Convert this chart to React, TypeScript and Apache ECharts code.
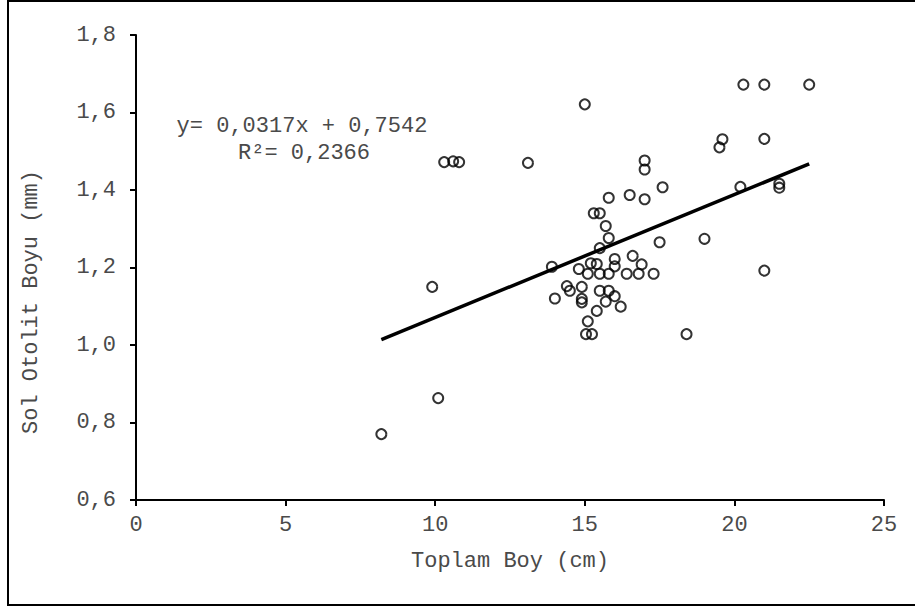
import React, { useEffect, useRef } from "react";
import * as echarts from "echarts";

const toplamBoy: number[] = [
  8.2, 9.9, 10.1, 10.3, 10.6, 10.8, 13.1, 13.9, 14.0, 15.0,
  14.4, 14.5, 14.9, 14.9, 14.9, 14.8, 15.2, 15.4, 15.1, 15.5,
  15.8, 16.4, 16.8, 17.3, 16.0, 16.0, 16.6, 16.9, 15.5, 15.8,
  16.0, 15.7, 16.2, 15.4, 15.1, 15.04, 15.24, 18.4, 15.5, 15.8,
  15.7, 15.3, 15.5, 15.8, 16.5, 17.0, 17.0, 17.0, 17.6, 17.5,
  19.0, 20.2, 21.5, 21.5, 21.0, 19.5, 19.6, 21.0, 20.3, 21.0,
  22.5,
];
const solOtolitBoyu: number[] = [
  0.77, 1.15, 0.863, 1.472, 1.474, 1.472, 1.47, 1.202, 1.12, 1.621,
  1.152, 1.14, 1.15, 1.119, 1.11, 1.196, 1.211, 1.209, 1.184, 1.184,
  1.184, 1.184, 1.184, 1.184, 1.222, 1.203, 1.23, 1.208, 1.14, 1.14,
  1.126, 1.112, 1.099, 1.088, 1.061, 1.028, 1.028, 1.028, 1.25, 1.276,
  1.307, 1.34, 1.34, 1.38, 1.387, 1.376, 1.453, 1.476, 1.407, 1.265,
  1.274, 1.408, 1.416, 1.406, 1.192, 1.51, 1.531, 1.532, 1.672, 1.672,
  1.672,
];
const trendSlope = 0.0317;
const trendIntercept = 0.7542;
const rSquared = 0.2366;
const xTicks = { min: 0, max: 25, interval: 5 };
const yTicks = { min: 0.6, max: 1.8, interval: 0.2 };

const FONT =
  "'Courier New', 'Nimbus Mono PS', 'Nimbus Mono L', FreeMono, 'Liberation Mono', monospace";
const TEXT_COLOR = "#4a4a4a";

const fmt = (v: number, d: number) => v.toFixed(d).replace(".", ",");

export default function App() {
  const ref = useRef<HTMLDivElement>(null);

  useEffect(() => {
    if (!ref.current) return;
    const chart = echarts.init(ref.current, undefined, { renderer: "svg" });
    const points = toplamBoy.map((x, i) => [x, solOtolitBoyu[i]]);
    const xMin = Math.min(...toplamBoy);
    const xMax = Math.max(...toplamBoy);
    const trend = [
      [xMin, trendSlope * xMin + trendIntercept],
      [xMax, trendSlope * xMax + trendIntercept],
    ];

    chart.setOption({
      animation: false,
      backgroundColor: "#ffffff",
      grid: { left: 136, right: 31, top: 35, bottom: 108, containLabel: false },
      xAxis: {
        type: "value",
        min: xTicks.min,
        max: xTicks.max,
        interval: xTicks.interval,
        name: "Toplam Boy (cm)",
        nameLocation: "middle",
        nameGap: 50,
        nameTextStyle: { fontFamily: FONT, fontSize: 22, color: TEXT_COLOR },
        axisLine: { onZero: false, lineStyle: { color: "#000", width: 2 } },
        axisTick: { show: true, inside: false, length: 6, lineStyle: { color: "#000", width: 2 } },
        axisLabel: {
          fontFamily: FONT,
          fontSize: 22,
          color: TEXT_COLOR,
          margin: 14,
          formatter: (v: number) => fmt(v, 0),
        },
        splitLine: { show: false },
      },
      yAxis: {
        type: "value",
        min: yTicks.min,
        max: yTicks.max,
        interval: yTicks.interval,
        axisLine: { show: true, onZero: false, lineStyle: { color: "#000", width: 2 } },
        axisTick: { show: true, inside: false, length: 6, lineStyle: { color: "#000", width: 2 } },
        axisLabel: {
          fontFamily: FONT,
          fontSize: 22,
          color: TEXT_COLOR,
          margin: 20,
          formatter: (v: number) => fmt(v, 1),
        },
        splitLine: { show: false },
      },
      graphic: [
        {
          type: "rect",
          shape: { x: 8, y: 1, width: 920, height: 604 },
          style: { fill: "none", stroke: "#000", lineWidth: 2 },
          silent: true,
        },
        {
          type: "text",
          x: 31,
          y: 302,
          rotation: Math.PI / 2,
          style: {
            text: "Sol Otolit Boyu (mm)",
            fontFamily: FONT,
            fontSize: 22,
            fill: TEXT_COLOR,
            textAlign: "center",
            textVerticalAlign: "middle",
          },
        },
        {
          type: "text",
          x: 302,
          y: 126,
          style: {
            text: `y= ${fmt(trendSlope, 4)}x + ${fmt(trendIntercept, 4)}`,
            fontFamily: FONT,
            fontSize: 22,
            fill: TEXT_COLOR,
            textAlign: "center",
            textVerticalAlign: "middle",
          },
        },
        {
          type: "text",
          x: 304,
          y: 153,
          style: {
            text: `R²= ${fmt(rSquared, 4)}`,
            fontFamily: FONT,
            fontSize: 22,
            fill: TEXT_COLOR,
            textAlign: "center",
            textVerticalAlign: "middle",
          },
        },
      ],
      series: [
        {
          type: "scatter",
          data: points,
          symbol: "circle",
          symbolSize: 10,
          itemStyle: { color: "rgba(0,0,0,0)", borderColor: "#000", borderWidth: 2 },
          z: 3,
        },
        {
          type: "line",
          data: trend,
          showSymbol: false,
          symbol: "none",
          lineStyle: { color: "#000", width: 3.5 },
          z: 2,
        },
      ],
    });
    return () => chart.dispose();
  }, []);

  return (
    <div
      ref={ref}
      style={{ position: "absolute", left: 0, top: 0, width: 915, height: 608 }}
    />
  );
}
